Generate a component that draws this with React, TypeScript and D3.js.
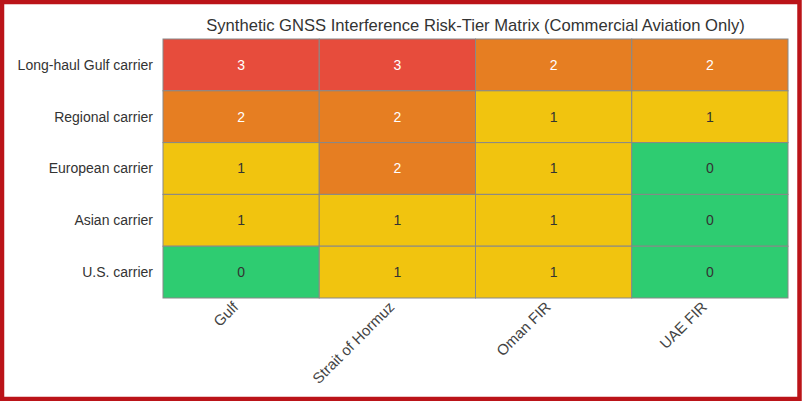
import * as d3 from "d3";
import { useRef, useEffect } from "react";

const carriers = [
  "Long-haul Gulf carrier",
  "Regional carrier",
  "European carrier",
  "Asian carrier",
  "U.S. carrier",
];
const regions = ["Gulf", "Strait of Hormuz", "Oman FIR", "UAE FIR"];
// risk tier per carrier (rows) and region (columns)
const tiers = [
  [3, 3, 2, 2],
  [2, 2, 1, 1],
  [1, 2, 1, 0],
  [1, 1, 1, 0],
  [0, 1, 1, 0],
];
const tierColors = ["#2ecc71", "#f1c40f", "#e67e22", "#e74c3c"];

export default function App() {
  const width = 802;
  const height = 401;
  const marginTop = 39;
  const marginLeft = 163;
  const marginRight = 14;
  const marginBottom = 103;

  const ref = useRef(null);
  useEffect((): void => {
    if (!ref.current) return;
    const svg = d3.select(ref.current);
    svg.selectAll("*").remove();

    const x = d3
      .scaleBand()
      .domain(regions)
      .range([marginLeft, width - marginRight]);
    const y = d3
      .scaleBand()
      .domain(carriers)
      .range([marginTop, height - marginBottom]);
    const color = d3
      .scaleOrdinal<number, string>()
      .domain([0, 1, 2, 3])
      .range(tierColors);

    svg
      .append("rect")
      .attr("x", 2)
      .attr("y", 2)
      .attr("width", width - 4.5)
      .attr("height", height - 4)
      .attr("fill", "#fff")
      .attr("stroke", "#bb1419")
      .attr("stroke-width", 4.5);

    const cells = tiers.flatMap((row, i) =>
      row.map((v, j) => ({ carrier: carriers[i], region: regions[j], v })),
    );

    const g = svg.append("g");
    g.selectAll()
      .data(cells)
      .join("rect")
      .attr("x", (d) => x(d.region)!)
      .attr("y", (d) => y(d.carrier)!)
      .attr("width", x.bandwidth())
      .attr("height", y.bandwidth())
      .attr("fill", (d) => color(d.v))
      .attr("stroke", "#888")
      .attr("stroke-width", 1);

    g.selectAll()
      .data(cells)
      .join("text")
      .attr("x", (d) => x(d.region)! + x.bandwidth() / 2)
      .attr("y", (d) => y(d.carrier)! + y.bandwidth() / 2)
      .attr("dy", "0.35em")
      .attr("text-anchor", "middle")
      .attr("font-size", 14)
      .attr("fill", (d) => (d.v >= 2 ? "#fff" : "#333"))
      .text((d) => d.v);

    svg
      .append("g")
      .attr("font-size", 14)
      .attr("fill", "#333")
      .attr("text-anchor", "end")
      .selectAll()
      .data(carriers)
      .join("text")
      .attr("x", marginLeft - 10)
      .attr("y", (d) => y(d)! + y.bandwidth() / 2)
      .attr("dy", "0.35em")
      .text((d) => d);

    svg
      .append("g")
      .attr("font-size", 15)
      .attr("fill", "#444")
      .attr("text-anchor", "end")
      .selectAll()
      .data(regions)
      .join("text")
      .attr(
        "transform",
        (d) =>
          `translate(${x(d)! + x.bandwidth() / 2 - 2},${height - marginBottom + 10}) rotate(-45)`,
      )
      .text((d) => d);

    svg
      .append("text")
      .attr("x", marginLeft + (width - marginRight - marginLeft) / 2)
      .attr("y", 31)
      .attr("text-anchor", "middle")
      .attr("font-size", 16.6)
      .attr("fill", "#333")
      .text(
        "Synthetic GNSS Interference Risk-Tier Matrix (Commercial Aviation Only)",
      );
  }, []);

  return (
    <svg
      ref={ref}
      width={width}
      height={height}
      style={{
        position: "fixed",
        left: 0,
        top: 0,
        fontFamily: "'Liberation Sans', Arial, sans-serif",
      }}
    />
  );
}
